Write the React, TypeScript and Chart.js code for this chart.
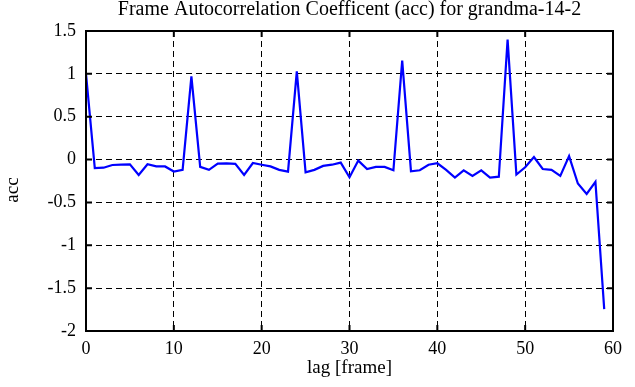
import React, { useEffect, useRef } from "react";
import { Chart, registerables } from "chart.js";

Chart.register(...registerables);

const lags = [
  0, 1, 2, 3, 4, 5, 6, 7, 8, 9, 10, 11, 12, 13, 14, 15, 16, 17, 18, 19,
  20, 21, 22, 23, 24, 25, 26, 27, 28, 29, 30, 31, 32, 33, 34, 35, 36, 37, 38, 39,
  40, 41, 42, 43, 44, 45, 46, 47, 48, 49, 50, 51, 52, 53, 54, 55, 56, 57, 58, 59,
];

const accValues = [
  1.0, -0.1, -0.095, -0.063, -0.06, -0.055, -0.18, -0.055, -0.08, -0.08,
  -0.14, -0.12, 0.97, -0.085, -0.12, -0.047, -0.045, -0.05, -0.18, -0.04,
  -0.06, -0.08, -0.12, -0.14, 1.03, -0.15, -0.12, -0.074, -0.06, -0.035,
  -0.206, -0.012, -0.11, -0.085, -0.085, -0.125, 1.155, -0.136, -0.125, -0.06,
  -0.043, -0.12, -0.21, -0.125, -0.19, -0.125, -0.21, -0.2, 1.4, -0.175,
  -0.09, 0.03, -0.11, -0.12, -0.19, 0.04, -0.28, -0.4, -0.26, -1.745,
];

const xTickValues = [0, 10, 20, 30, 40, 50, 60];
const yTickValues = [-2, -1.5, -1, -0.5, 0, 0.5, 1, 1.5];

const titleText = "Frame Autocorrelation Coefficent (acc) for grandma-14-2";
const xAxisLabel = "lag [frame]";
const yAxisLabel = "acc";

const FONT = "'Liberation Serif', 'Times New Roman', serif";

const framePlugin = {
  id: "matlabFrame",
  afterDraw(chart: any) {
    const { ctx, chartArea } = chart;
    const { left, right, top, bottom } = chartArea;
    const xs = chart.scales.x;
    const ys = chart.scales.y;
    ctx.save();
    ctx.strokeStyle = "#000";
    ctx.lineWidth = 2;
    ctx.setLineDash([]);
    ctx.strokeRect(left, top, right - left, bottom - top);
    const tl = 6;
    ctx.beginPath();
    xTickValues.forEach((v) => {
      const px = xs.getPixelForValue(v);
      ctx.moveTo(px, bottom);
      ctx.lineTo(px, bottom - tl);
      ctx.moveTo(px, top);
      ctx.lineTo(px, top + tl);
    });
    yTickValues.forEach((v) => {
      const py = ys.getPixelForValue(v);
      ctx.moveTo(left, py);
      ctx.lineTo(left + tl, py);
      ctx.moveTo(right, py);
      ctx.lineTo(right - tl, py);
    });
    ctx.stroke();

    ctx.fillStyle = "#000";
    ctx.textAlign = "center";
    ctx.textBaseline = "alphabetic";
    const cx = (left + right) / 2;
    ctx.font = `20px ${FONT}`;
    ctx.fillText(titleText, cx, 15);
    ctx.font = `19px ${FONT}`;
    ctx.fillText(xAxisLabel, cx, 373);
    ctx.translate(18, 190);
    ctx.rotate(-Math.PI / 2);
    ctx.fillText(yAxisLabel, 0, 0);
    ctx.restore();
  },
};

export default function App() {
  const canvasRef = useRef<HTMLCanvasElement | null>(null);

  useEffect(() => {
    if (!canvasRef.current) return;
    Chart.defaults.font.family = FONT;
    const chart = new Chart(canvasRef.current, {
      type: "line",
      data: {
        datasets: [
          {
            data: lags.map((l, i) => ({ x: l, y: accValues[i] })),
            borderColor: "#0000ff",
            borderWidth: 2.2,
            pointRadius: 0,
            tension: 0,
            fill: false,
          },
        ],
      },
      options: {
        animation: false,
        responsive: false,
        maintainAspectRatio: false,
        layout: { padding: { top: 31, right: 22, left: 0, bottom: 0 } },
        plugins: {
          legend: { display: false },
          title: { display: false },
          tooltip: { enabled: false },
        },
        scales: {
          x: {
            type: "linear",
            min: 0,
            max: 60,
            afterFit: (scale: any) => {
              scale.height = 56;
            },
            afterBuildTicks: (scale: any) => {
              scale.ticks = xTickValues.map((v) => ({ value: v }));
            },
            ticks: {
              autoSkip: false,
              maxRotation: 0,
              padding: 7,
              color: "#000",
              font: { size: 18, family: FONT },
              callback: (v: any) => String(v),
            },
            grid: {
              color: "#000",
              lineWidth: 1,
              drawTicks: false,
            },
            border: { display: false, dash: [6, 4] },
          },
          y: {
            type: "linear",
            min: -2,
            max: 1.5,
            afterFit: (scale: any) => {
              scale.width = 86;
            },
            afterBuildTicks: (scale: any) => {
              scale.ticks = yTickValues.map((v) => ({ value: v }));
            },
            ticks: {
              autoSkip: false,
              padding: 10,
              color: "#000",
              font: { size: 18, family: FONT },
              callback: (v: any) => String(v),
            },
            grid: {
              color: "#000",
              lineWidth: 1,
              drawTicks: false,
            },
            border: { display: false, dash: [6, 4] },
          },
        },
      },
      plugins: [framePlugin],
    });
    return () => chart.destroy();
  }, []);

  return (
    <div style={{ position: "absolute", left: 0, top: 0, width: 635, height: 387, background: "#fff" }}>
      <canvas ref={canvasRef} width={635} height={387} style={{ display: "block" }} />
    </div>
  );
}
